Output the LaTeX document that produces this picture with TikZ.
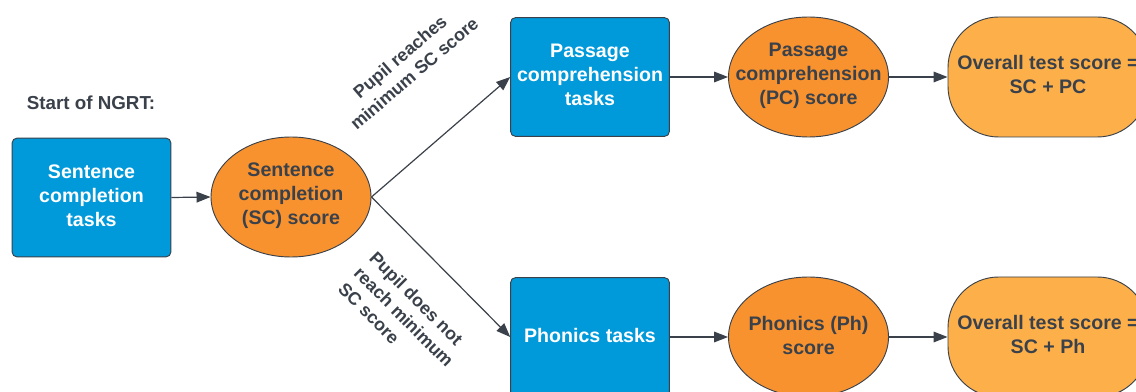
\documentclass[tikz,border=0pt]{standalone}
\usepackage{fontspec}
\setmainfont{Liberation Sans}
\usetikzlibrary{arrows.meta,shapes.geometric}
\definecolor{txt}{HTML}{3A414A}
\definecolor{bluefill}{HTML}{0099DA}
\definecolor{orfill}{HTML}{F8922F}
\definecolor{ovfill}{HTML}{FDB04A}
\definecolor{edge}{HTML}{3A414A}
\tikzset{
  base/.style={font=\bfseries\fontsize{14.7}{18}\selectfont, align=center, inner sep=0pt},
  taskbox/.style={draw=edge, line width=0.7pt, fill=bluefill, inner sep=0pt,
    rounded corners=3.5pt, minimum width=119pt, minimum height=89pt},
  tasktext/.style={base, text=white, yshift=1.5pt},
  scoreell/.style={ellipse, draw=edge, line width=0.7pt, fill=orfill, inner sep=0pt,
    minimum width=120pt, minimum height=90pt},
  scoretext/.style={base, text=txt, yshift=1.2pt},
  overall/.style={draw=edge, line width=0.7pt, fill=ovfill, inner sep=0pt,
    rounded corners=38pt, minimum width=150pt, minimum height=90pt},
  overtext/.style={base, text=txt, yshift=2.2pt},
  conn/.style={draw=edge, line width=0.9pt, -{Triangle[length=10.5pt,width=8pt]}},
  lbl/.style={font=\bfseries\fontsize{13.4}{16.5}\selectfont, text=txt, inner sep=0pt}
}
\begin{document}
\begin{tikzpicture}[x=0.75pt,y=-0.75pt]
\clip (0,0) rectangle (1136,392);
\useasboundingbox (0,0) rectangle (1136,392);
\node[base, text=txt, font=\bfseries\fontsize{14.1}{17}\selectfont] (start) at (91,103) {Start of NGRT:};
\node[taskbox] (sct) at (91.5,197.5) {};
\node[tasktext] (scttx) at (sct.center) {Sentence\\completion\\tasks};
\node[scoreell] (sc) at (291,197) {};
\node[scoretext] (sctx) at (sc.center) {Sentence\\completion\\(SC) score};
\node[taskbox] (pct) at (590,77) {};
\node[tasktext] (pcttx) at (pct.center) {Passage\\comprehension\\tasks};
\node[scoreell] (pc) at (808.5,77) {};
\node[scoretext] (pctx) at (pc.center) {Passage\\comprehension\\(PC) score};
\node[overall] (ov1) at (1048,77) {};
\node[overtext] (ov1tx) at (ov1.center) {Overall test score =\\SC + PC};
\node[taskbox] (pht) at (590,337) {};
\node[tasktext] (phttx) at (pht.center) {Phonics tasks};
\node[scoreell] (ph) at (808.5,337) {};
\node[scoretext] (phtx) at (ph.center) {Phonics (Ph)\\score};
\node[overall] (ov2) at (1048,337) {};
\node[overtext] (ov2tx) at (ov2.center) {Overall test score =\\SC + Ph};
\draw[conn] (sct.east) -- (sc.west);
\draw[conn] (sc.east) -- (pct.west);
\draw[conn] (sc.east) -- (pht.west);
\draw[conn] (pct.east) -- (pc.west);
\draw[conn] (pc.east) -- (ov1.west);
\draw[conn] (pht.east) -- (ph.west);
\draw[conn] (ph.east) -- (ov2.west);
\node[lbl, align=center, rotate=40.6] (lup) at (407,65) {Pupil reaches\\minimum SC score};
\node[lbl, align=left, rotate=-45] (ldown) at (404,317) {Pupil does not\\reach minimum\\SC score};
\end{tikzpicture}
\end{document}
